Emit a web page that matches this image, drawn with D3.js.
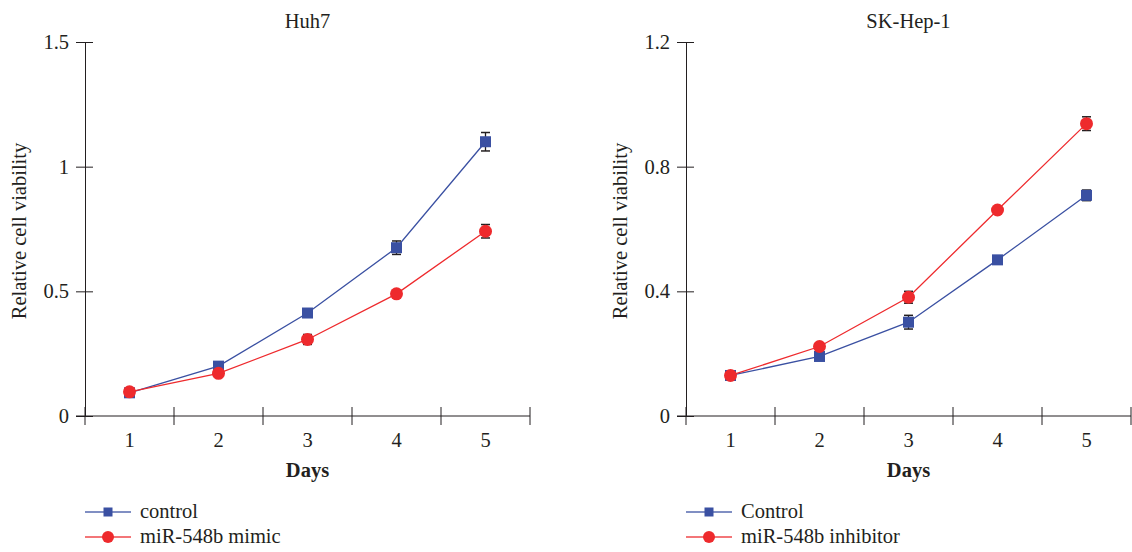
<!DOCTYPE html>
<html>
<head>
<meta charset="utf-8">
<script src="https://cdn.jsdelivr.net/npm/d3@7"></script>
<style>
  body { margin: 0; background: #fff; }
</style>
</head>
<body>
<svg width="1132" height="552"></svg>
<script>
// data
var days = [1, 2, 3, 4, 5];

var huh7Control    = [0.093, 0.200, 0.413, 0.675, 1.100];
var huh7ControlErr = [0.006, 0.008, 0.015, 0.027, 0.037];
var huh7Mimic      = [0.097, 0.171, 0.307, 0.490, 0.741];
var huh7MimicErr   = [0.006, 0.010, 0.020, 0.010, 0.027];

var skControl      = [0.130, 0.191, 0.301, 0.501, 0.708];
var skControlErr   = [0.004, 0.008, 0.022, 0.007, 0.017];
var skInhibitor    = [0.130, 0.223, 0.381, 0.661, 0.938];
var skInhibitorErr = [0.004, 0.006, 0.019, 0.010, 0.022];

var huh7Ticks = [0, 0.5, 1, 1.5];
var skTicks   = [0, 0.4, 0.8, 1.2];

var blue = "#3a50a2", red = "#ee2a2d";
var FONT = "'Liberation Serif', 'DejaVu Serif', serif";

var svg = d3.select("svg");

function txt(sel, size) {
  return sel.style("font-family", FONT).style("font-size", (size || 20.5) + "px").style("fill", "#231f20");
}

function panel(opt) {
  var left = opt.left, right = opt.left + 445, top = 42, bottom = 416;

  var x = d3.scaleBand().domain(days).range([left, right]);
  var y = d3.scaleLinear().domain([0, opt.ymax]).range([bottom, top]);

  var g = svg.append("g");

  // y axis, ticks crossing the line
  var ya = g.append("g")
      .attr("transform", "translate(" + left + ",0)")
      .call(d3.axisLeft(y).tickValues(opt.ticks).tickFormat(function(d){ return d; })
        .tickSize(9).tickPadding(7).tickSizeOuter(0));
  ya.attr("font-family", null).attr("font-size", null);
  ya.selectAll(".tick").append("line").attr("x2", 8).attr("stroke", "#231f20");
  ya.selectAll("line, path").attr("stroke", "#231f20");
  txt(ya.selectAll("text"));

  // x axis: labels at band centres, ticks at band edges
  var xa = g.append("g")
      .attr("transform", "translate(0," + bottom + ")")
      .call(d3.axisBottom(x).tickSize(0).tickPadding(16));
  xa.attr("font-family", null).attr("font-size", null);
  xa.select(".domain").remove();
  txt(xa.selectAll("text"));
  xa.append("line").attr("x1", left - 9).attr("x2", right).attr("stroke", "#231f20");
  var edges = days.map(function(d){ return x(d); }).concat([right]);
  xa.selectAll(".edge").data(edges).enter().append("line")
      .attr("class", "edge")
      .attr("x1", function(d){ return d; }).attr("x2", function(d){ return d; })
      .attr("y1", -9).attr("y2", 9).attr("stroke", "#231f20");

  var cx = function(i){ return x(days[i]) + x.bandwidth() / 2; };

  // axis titles
  txt(g.append("text").attr("x", (left + right) / 2).attr("y", 28)
      .attr("text-anchor", "middle").text(opt.title));
  txt(g.append("text").attr("x", (left + right) / 2).attr("y", 477)
      .attr("text-anchor", "middle").style("font-weight", "bold").text("Days"));
  txt(g.append("text").attr("transform", "translate(" + (left - 59) + "," + ((top + bottom) / 2 + 2) + ") rotate(-90)")
      .attr("text-anchor", "middle").text("Relative cell viability"));

  opt.series.forEach(function(s) {
    var line = d3.line().x(function(d, i){ return cx(i); }).y(function(d){ return y(d); });
    g.append("path").datum(s.values).attr("d", line)
        .attr("fill", "none").attr("stroke", s.color).attr("stroke-width", 1.3);

    // error bars
    var eb = g.append("g").selectAll("g").data(s.values).enter().append("g");
    eb.append("line")
        .attr("x1", function(d, i){ return cx(i); }).attr("x2", function(d, i){ return cx(i); })
        .attr("y1", function(d, i){ return y(d + s.err[i]); }).attr("y2", function(d, i){ return y(d - s.err[i]); })
        .attr("stroke", "#231f20").attr("stroke-width", 1.3);
    [1, -1].forEach(function(sg) {
      eb.append("line")
          .attr("x1", function(d, i){ return cx(i) - 4.5; }).attr("x2", function(d, i){ return cx(i) + 4.5; })
          .attr("y1", function(d, i){ return y(d + sg * s.err[i]); }).attr("y2", function(d, i){ return y(d + sg * s.err[i]); })
          .attr("stroke", "#231f20").attr("stroke-width", 1.5);
    });

    // markers
    var m = g.append("g").selectAll(".m").data(s.values).enter();
    if (s.shape === "square") {
      m.append("rect").attr("x", function(d, i){ return cx(i) - 5.5; }).attr("y", function(d){ return y(d) - 5.5; })
          .attr("width", 11).attr("height", 11).attr("fill", s.color);
    } else {
      m.append("circle").attr("cx", function(d, i){ return cx(i); }).attr("cy", function(d){ return y(d); })
          .attr("r", 6.5).attr("fill", s.color);
    }
  });

  // legend
  opt.series.forEach(function(s, k) {
    var ly = 512 + k * 25;
    var lg = g.append("g");
    lg.append("line").attr("x1", left).attr("x2", left + 46).attr("y1", ly).attr("y2", ly)
        .attr("stroke", s.color).attr("stroke-width", 1.5).attr("opacity", 0.85);
    if (s.shape === "square") {
      lg.append("rect").attr("x", left + 23 - 4.5).attr("y", ly - 4.5).attr("width", 9).attr("height", 9).attr("fill", s.color);
    } else {
      lg.append("circle").attr("cx", left + 23).attr("cy", ly).attr("r", 6).attr("fill", s.color);
    }
    txt(lg.append("text").attr("x", left + 55).attr("y", ly + 6).text(s.name));
  });
}

panel({
  left: 85, ymax: 1.5, ticks: huh7Ticks, title: "Huh7",
  series: [
    { name: "control", values: huh7Control, err: huh7ControlErr, color: blue, shape: "square" },
    { name: "miR-548b mimic", values: huh7Mimic, err: huh7MimicErr, color: red, shape: "circle" }
  ]
});

panel({
  left: 686, ymax: 1.2, ticks: skTicks, title: "SK-Hep-1",
  series: [
    { name: "Control", values: skControl, err: skControlErr, color: blue, shape: "square" },
    { name: "miR-548b inhibitor", values: skInhibitor, err: skInhibitorErr, color: red, shape: "circle" }
  ]
});
</script>
</body>
</html>
